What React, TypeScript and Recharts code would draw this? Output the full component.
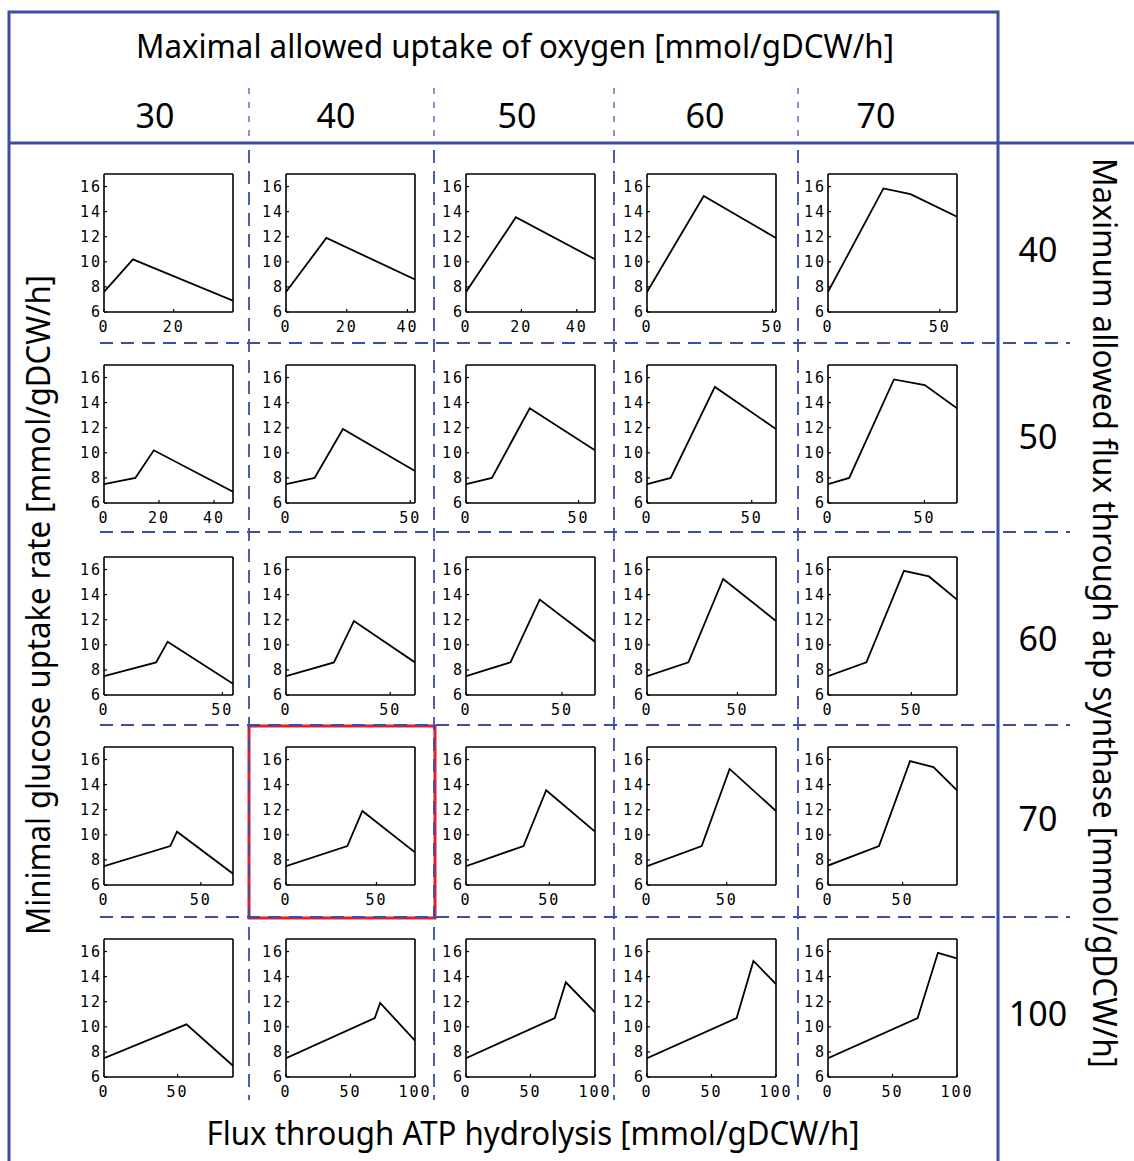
import React from "react";
import { LineChart, Line, XAxis, YAxis } from "recharts";

// column headings: max oxygen uptake, row headings: max flux through atp synthase
const oxygenLevels = ["30", "40", "50", "60", "70"];
const synthaseLevels = ["40", "50", "60", "70", "100"];
const yTicks = [6, 8, 10, 12, 14, 16];

// flux through ATP hydrolysis (x) and minimal glucose uptake (y), one row per synthase limit
const hydrolysis40 = [[0, 8.3, 37], [0, 13.3, 42.5], [0, 18, 46.6], [0, 22.6, 51.4], [0, 24.8, 36.9, 57.7]];
const glucose40 = [[7.6, 10.2, 6.9], [7.6, 11.9, 8.6], [7.6, 13.55, 10.2], [7.6, 15.25, 11.9], [7.6, 15.85, 15.4, 13.6]];

const hydrolysis50 = [[0, 11.4, 18.1, 46.9], [0, 11.5, 22.9, 51.9], [0, 11.5, 28.3, 57.3], [0, 11.3, 32.4, 61.6], [0, 11, 34.2, 50.2, 66.9]];
const glucose50 = [[7.5, 8.0, 10.2, 6.9], [7.5, 8.0, 11.9, 8.55], [7.5, 8.0, 13.55, 10.2], [7.5, 8.0, 15.25, 11.9], [7.5, 8.0, 15.85, 15.4, 13.55]];

const hydrolysis60 = [[0, 22, 26.9, 54.5], [0, 23, 32.6, 61.9], [0, 23.2, 38.4, 67.2], [0, 22.9, 42.1, 71.3], [0, 23, 45.5, 60.5, 77.3]];
const glucose60 = [[7.5, 8.6, 10.25, 6.9], [7.5, 8.6, 11.9, 8.6], [7.5, 8.6, 13.6, 10.25], [7.5, 8.6, 15.25, 11.9], [7.5, 8.6, 15.9, 15.45, 13.6]];

const hydrolysis70 = [[0, 34.2, 37.7, 66.6], [0, 33.9, 42.2, 71.3], [0, 34.5, 48.1, 77.4], [0, 34.3, 51.8, 80.9], [0, 34.2, 55, 70.7, 86.5]];
const glucose70 = [[7.5, 9.1, 10.25, 6.9], [7.5, 9.1, 11.9, 8.6], [7.5, 9.1, 13.55, 10.25], [7.5, 9.1, 15.25, 11.9], [7.55, 9.1, 15.87, 15.4, 13.55]];

const hydrolysis100 = [[0, 56, 87.6], [0, 68.8, 73, 100], [0, 68.8, 77.4, 100], [0, 69.5, 82.5, 100], [0, 69.5, 85.2, 100]];
const glucose100 = [[7.5, 10.2, 6.9], [7.5, 10.7, 11.9, 8.9], [7.5, 10.7, 13.55, 11.15], [7.5, 10.7, 15.25, 13.4], [7.5, 10.7, 15.9, 15.45]];

const xTicks = [
  [[0, 20], [0, 20, 40], [0, 20, 40], [0, 50], [0, 50]],
  [[0, 20, 40], [0, 50], [0, 50], [0, 50], [0, 50]],
  [[0, 50], [0, 50], [0, 50], [0, 50], [0, 50]],
  [[0, 50], [0, 50], [0, 50], [0, 50], [0, 50]],
  [[0, 50], [0, 50, 100], [0, 50, 100], [0, 50, 100], [0, 50, 100]],
];

const hydrolysisRows = [hydrolysis40, hydrolysis50, hydrolysis60, hydrolysis70, hydrolysis100];
const glucoseRows = [glucose40, glucose50, glucose60, glucose70, glucose100];

// layout
const plotLefts = [104, 285.5, 466, 647, 828];
const plotTops = [174, 365, 557, 747, 939];
const PW = 129;
const PH = 138;
const YW = 30;
const MT = 2;
const MR = 24;
const XH = 24;

const BLUE = "#3d4ca8";
const TITLE_FONT = "'Liberation Sans Narrow', 'Noto Sans', sans-serif";
const tickStyle = { fill: "#000", fontSize: 15, fontFamily: "'DejaVu Sans Mono', monospace", letterSpacing: 2 };

const Panel = ({ row, col }: { row: number; col: number }) => {
  const xs = hydrolysisRows[row][col];
  const ys = glucoseRows[row][col];
  const data = xs.map((x, i) => ({ x, y: ys[i] }));
  const xmax = xs[xs.length - 1];
  const ticks = xTicks[row][col];
  const axisLine = { stroke: "#000", strokeWidth: 1.6 };
  const tickLine = { stroke: "#000", strokeWidth: 1.2 };
  return (
    <div style={{ position: "absolute", left: plotLefts[col] - YW, top: plotTops[row] - MT }}>
      <LineChart width={YW + PW + MR} height={MT + PH + XH} data={data} margin={{ top: MT - 1, right: MR - 1, bottom: 0, left: 0 }}>
        <XAxis
          type="number"
          dataKey="x"
          domain={[0, xmax]}
          ticks={ticks}
          height={XH}
          axisLine={axisLine}
          tickLine={tickLine}
          tickSize={-3}
          tickMargin={12}
          tick={tickStyle}
          allowDataOverflow
          interval={0}
        />
        <XAxis
          xAxisId="top"
          orientation="top"
          type="number"
          dataKey="x"
          domain={[0, xmax]}
          ticks={ticks}
          height={1}
          axisLine={axisLine}
          tickLine={tickLine}
          tickSize={-3}
          tick={false}
          allowDataOverflow
          interval={0}
        />
        <YAxis
          type="number"
          domain={[6, 17]}
          ticks={yTicks}
          width={YW}
          axisLine={axisLine}
          tickLine={tickLine}
          tickSize={-3}
          tickMargin={5}
          tick={tickStyle}
          allowDataOverflow
          interval={0}
        />
        <YAxis
          yAxisId="right"
          orientation="right"
          type="number"
          domain={[6, 17]}
          ticks={yTicks}
          width={1}
          axisLine={axisLine}
          tickLine={tickLine}
          tickSize={-3}
          tick={false}
          allowDataOverflow
          interval={0}
        />
        <Line
          xAxisId="top"
          yAxisId="right"
          type="linear"
          dataKey="y"
          stroke="none"
          dot={false}
          activeDot={false}
          isAnimationActive={false}
        />
        <Line type="linear" dataKey="y" stroke="#000" strokeWidth={1.8} dot={false} activeDot={false} isAnimationActive={false} />
      </LineChart>
    </div>
  );
};

const colDividers = [249, 434, 614, 798];
const rowDividers = [343, 532, 725, 917];
const colCenters = [155, 336, 517, 705, 876];
const rowBaselines = [262, 449, 651, 831, 1026];

const Overlay = () => (
  <svg width={1134} height={1161} style={{ position: "absolute", left: 0, top: 0, pointerEvents: "none" }}>
    <rect x={249} y={726} width={186} height={192} fill="none" stroke="#e0202a" strokeWidth={3} />
    <polyline points="9,1161 9,12 998,12 998,1161" fill="none" stroke={BLUE} strokeWidth={3} />
    <line x1={9} y1={143} x2={1134} y2={143} stroke={BLUE} strokeWidth={3} />
    {colDividers.map((x) => (
      <line key={"h" + x} x1={x} y1={88} x2={x} y2={141} stroke={BLUE} strokeWidth={1.2} strokeDasharray="6 8" />
    ))}
    {colDividers.map((x) => (
      <line key={"v" + x} x1={x} y1={150} x2={x} y2={1100} stroke={BLUE} strokeWidth={1.8} strokeDasharray="13 8" />
    ))}
    {rowDividers.map((y) => (
      <line key={"r" + y} x1={100} y1={y} x2={1070} y2={y} stroke={BLUE} strokeWidth={1.8} strokeDasharray="13 8" />
    ))}
    <g fontFamily={TITLE_FONT} fill="#000">
      <text x={515} y={58} fontSize={32} textAnchor="middle" textLength={758} lengthAdjust="spacingAndGlyphs">
        Maximal allowed uptake of oxygen [mmol/gDCW/h]
      </text>
      {oxygenLevels.map((t, i) => (
        <text key={t} x={colCenters[i]} y={128} fontSize={34} textAnchor="middle">
          {t}
        </text>
      ))}
      {synthaseLevels.map((t, i) => (
        <text key={t} x={1038} y={rowBaselines[i]} fontSize={34} textAnchor="middle">
          {t}
        </text>
      ))}
      <text transform="translate(50,605) rotate(-90)" fontSize={32} textAnchor="middle" textLength={660} lengthAdjust="spacingAndGlyphs">
        Minimal glucose uptake rate [mmol/gDCW/h]
      </text>
      <text transform="translate(1093,613) rotate(90)" fontSize={32} textAnchor="middle" textLength={910} lengthAdjust="spacingAndGlyphs">
        Maximum allowed flux through atp synthase  [mmol/gDCW/h]
      </text>
      <text x={533} y={1145} fontSize={32} textAnchor="middle" textLength={653} lengthAdjust="spacingAndGlyphs">
        Flux through ATP hydrolysis [mmol/gDCW/h]
      </text>
    </g>
  </svg>
);

export default function App() {
  return (
    <div style={{ position: "absolute", left: 0, top: 0, width: 1134, height: 1161, background: "#fff", overflow: "hidden" }}>
      {plotTops.map((_, r) => plotLefts.map((__, c) => <Panel key={r + "-" + c} row={r} col={c} />))}
      <Overlay />
    </div>
  );
}
